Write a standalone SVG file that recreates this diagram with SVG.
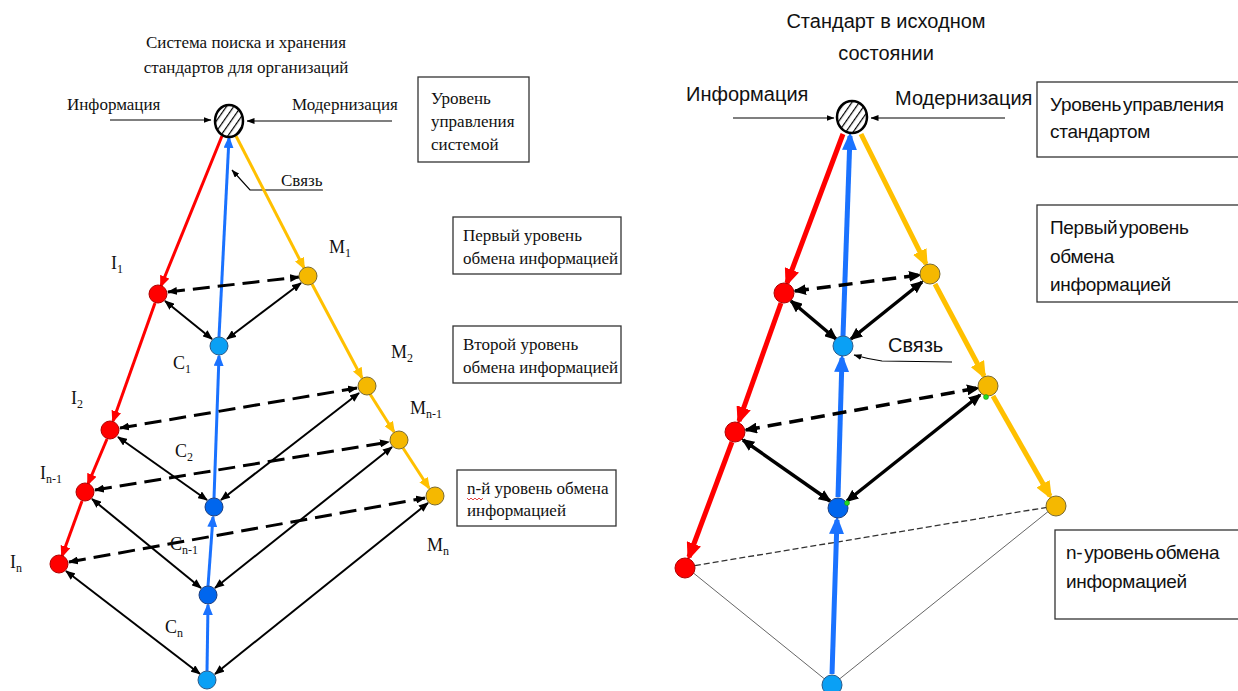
<svg xmlns="http://www.w3.org/2000/svg" width="1238" height="691" viewBox="0 0 1238 691">
<style>
.ser{font-family:"Liberation Serif","Times New Roman",serif;font-size:17px;fill:#111}
.lab{font-family:"Liberation Serif","Times New Roman",serif;font-size:18px;fill:#111}
.sub{font-size:12px}
.san{font-family:"Liberation Sans",Arial,sans-serif;font-size:20px;fill:#111}
.sbx{font-family:"Liberation Sans",Arial,sans-serif;font-size:19px;letter-spacing:-0.3px;word-spacing:-3px;fill:#111}
.box{fill:#fff;stroke:#333;stroke-width:1.3}
.rL{stroke:#ff0000;stroke-width:3;fill:none;marker-end:url(#mRL)}
.yL{stroke:#ffc000;stroke-width:3;fill:none;marker-end:url(#mYL)}
.bL{stroke:#1a72ff;stroke-width:3;fill:none;marker-end:url(#mBL)}
.kL{stroke:#000;stroke-width:2;fill:none;marker-start:url(#mKL);marker-end:url(#mKL)}
.kLd{stroke:#000;stroke-width:3;fill:none;stroke-dasharray:17 8;marker-start:url(#mKL);marker-end:url(#mKL)}
.rR{stroke:#ff0000;stroke-width:5;fill:none;marker-end:url(#mRR)}
.yR{stroke:#ffc000;stroke-width:5;fill:none;marker-end:url(#mYR)}
.bR{stroke:#1a72ff;stroke-width:5;fill:none;marker-end:url(#mBR)}
.kR{stroke:#000;stroke-width:3.5;fill:none;marker-start:url(#mKR);marker-end:url(#mKR)}
.kRd{stroke:#000;stroke-width:3.5;fill:none;stroke-dasharray:14 8;marker-start:url(#mKR);marker-end:url(#mKR)}
.thin{stroke:#000;stroke-width:1.2;fill:none;marker-end:url(#mKT)}
.nr{fill:#ff0000;stroke:#b00000;stroke-width:1}
.ny{fill:#f5b800;stroke:#7a6a30;stroke-width:1}
.nbl{fill:#0aa0f5;stroke:#2a5a8a;stroke-width:1}
.nbd{fill:#0066ee;stroke:#1d3f80;stroke-width:1}
.top{fill:url(#hatch);stroke:#000;stroke-width:2.5}
</style>
<defs>
<pattern id="hatch" patternUnits="userSpaceOnUse" width="6" height="6" patternTransform="rotate(35)">
<rect width="6" height="6" fill="#fff"/>
<line x1="0" y1="0" x2="0" y2="6" stroke="#000" stroke-width="2.4"/>
</pattern>
<marker id="mRL" viewBox="0 0 12 10" refX="10" refY="5" markerWidth="12" markerHeight="10" markerUnits="userSpaceOnUse" orient="auto"><path d="M0,0 L12,5 L0,10 z" fill="#ff0000"/></marker>
<marker id="mYL" viewBox="0 0 12 10" refX="10" refY="5" markerWidth="12" markerHeight="10" markerUnits="userSpaceOnUse" orient="auto"><path d="M0,0 L12,5 L0,10 z" fill="#ffc000"/></marker>
<marker id="mBL" viewBox="0 0 12 10" refX="10" refY="5" markerWidth="12" markerHeight="10" markerUnits="userSpaceOnUse" orient="auto"><path d="M0,0 L12,5 L0,10 z" fill="#1a72ff"/></marker>
<marker id="mKL" viewBox="0 0 10 8" refX="9" refY="4" markerWidth="10" markerHeight="8" markerUnits="userSpaceOnUse" orient="auto-start-reverse"><path d="M0,0 L10,4 L0,8 z" fill="#000"/></marker>
<marker id="mRR" viewBox="0 0 18 15" refX="14" refY="7.5" markerWidth="18" markerHeight="15" markerUnits="userSpaceOnUse" orient="auto"><path d="M0,0 L18,7.5 L0,15 z" fill="#ff0000"/></marker>
<marker id="mYR" viewBox="0 0 18 15" refX="14" refY="7.5" markerWidth="18" markerHeight="15" markerUnits="userSpaceOnUse" orient="auto"><path d="M0,0 L18,7.5 L0,15 z" fill="#ffc000"/></marker>
<marker id="mBR" viewBox="0 0 18 15" refX="14" refY="7.5" markerWidth="18" markerHeight="15" markerUnits="userSpaceOnUse" orient="auto"><path d="M0,0 L18,7.5 L0,15 z" fill="#1a72ff"/></marker>
<marker id="mKR" viewBox="0 0 13 11" refX="11" refY="5.5" markerWidth="13" markerHeight="11" markerUnits="userSpaceOnUse" orient="auto-start-reverse"><path d="M0,0 L13,5.5 L0,11 z" fill="#000"/></marker>
<marker id="mKT" viewBox="0 0 8 6" refX="7.5" refY="3" markerWidth="8" markerHeight="6" markerUnits="userSpaceOnUse" orient="auto"><path d="M0,0 L8,3 L0,6 z" fill="#000"/></marker>
</defs>
<rect width="1238" height="691" fill="#fff"/>

<!-- ===== LEFT ===== -->
<g id="L-title">
<text class="ser" x="246" y="48" text-anchor="middle">Система поиска и хранения</text>
<text class="ser" x="246" y="73" text-anchor="middle">стандартов для организаций</text>
</g>
<g id="L-labels-in">
<text class="ser" x="67" y="110">Информация</text>
<text class="ser" x="292" y="110">Модернизация</text>
<text class="ser" x="281" y="186">Связь</text>
</g>
<g id="L-box-top">
<rect class="box" x="418" y="77" width="111" height="85"/>
<text class="ser" x="431" y="104">Уровень</text>
<text class="ser" x="431" y="127">управления</text>
<text class="ser" x="431" y="150">системой</text>
</g>
<g id="L-box-1">
<rect class="box" x="453" y="217" width="168" height="57"/>
<text class="ser" x="463" y="241">Первый уровень</text>
<text class="ser" x="463" y="264">обмена информацией</text>
</g>
<g id="L-box-2">
<rect class="box" x="453" y="326" width="168" height="57"/>
<text class="ser" x="463" y="350">Второй уровень</text>
<text class="ser" x="463" y="373">обмена информацией</text>
</g>
<g id="L-box-n">
<rect class="box" x="457" y="470" width="159" height="56"/>
<text class="ser" x="467" y="494">n-й уровень обмена</text>
<text class="ser" x="467" y="516">информацией</text>
<path d="M467,498 l2,2 l2,-2 l2,2 l2,-2 l2,2 l2,-2 l2,2 l2,-2" stroke="#e03030" stroke-width="0.9" fill="none"/>
</g>

<g id="connectors">
<!-- left inputs -->
<line class="thin" x1="110" y1="120" x2="211" y2="120"/>
<line class="thin" x1="392" y1="121" x2="247" y2="121"/>
<polyline class="thin" points="323,190 250,190 232,170"/>
<!-- left red -->
<line class="rL" x1="222" y1="136" x2="161" y2="286"/>
<line class="rL" x1="155" y1="303" x2="113" y2="421"/>
<line class="rL" x1="107" y1="439" x2="88" y2="484"/>
<line class="rL" x1="82" y1="501" x2="62" y2="556"/>
<!-- left yellow -->
<line class="yL" x1="236" y1="136" x2="304" y2="268"/>
<line class="yL" x1="312" y1="284" x2="362" y2="378"/>
<line class="yL" x1="370" y1="394" x2="394" y2="432"/>
<line class="yL" x1="403" y1="448" x2="429" y2="488"/>
<!-- left blue -->
<line class="bL" x1="219" y1="337" x2="229" y2="138"/>
<line class="bL" x1="214" y1="498" x2="219" y2="356"/>
<line class="bL" x1="208" y1="586" x2="213" y2="517"/>
<line class="bL" x1="207" y1="671" x2="208" y2="605"/>
<!-- left black -->
<line class="kLd" x1="168" y1="292" x2="299" y2="277"/>
<line class="kL" x1="165" y1="301" x2="212" y2="339"/>
<line class="kL" x1="301" y1="283" x2="227" y2="339"/>
<line class="kLd" x1="120" y1="428" x2="357" y2="388"/>
<line class="kL" x1="118" y1="437" x2="207" y2="500"/>
<line class="kL" x1="359" y1="393" x2="221" y2="500"/>
<line class="kLd" x1="95" y1="490" x2="389" y2="442"/>
<line class="kL" x1="92" y1="499" x2="201" y2="588"/>
<line class="kL" x1="392" y1="447" x2="215" y2="588"/>
<line class="kLd" x1="69" y1="562" x2="425" y2="498"/>
<line class="kL" x1="66" y1="571" x2="200" y2="674"/>
<line class="kL" x1="428" y1="503" x2="215" y2="674"/>

<!-- right inputs -->
<line class="thin" x1="733" y1="118" x2="834" y2="118"/>
<line class="thin" x1="1005" y1="118" x2="871" y2="118"/>
<path d="M952,362 L882,361 Q868,359 854,355" fill="none" stroke="#000" stroke-width="1.2" marker-end="url(#mKT)"/>
<!-- right thin triangle -->
<line x1="686" y1="567" x2="1055" y2="506" stroke="#333" stroke-width="1.3" stroke-dasharray="6 3"/>
<line x1="686" y1="567" x2="832" y2="685" stroke="#666" stroke-width="1"/>
<line x1="832" y1="685" x2="1055" y2="506" stroke="#666" stroke-width="1"/>
<!-- right red -->
<line class="rR" x1="843" y1="134" x2="787" y2="283"/>
<line class="rR" x1="781" y1="303" x2="739" y2="421"/>
<line class="rR" x1="732" y1="442" x2="689" y2="557"/>
<!-- right yellow -->
<line class="yR" x1="861" y1="134" x2="926" y2="264"/>
<line class="yR" x1="935" y1="284" x2="984" y2="376"/>
<line class="yR" x1="993" y1="396" x2="1050" y2="496"/>
<!-- right blue -->
<line class="bR" x1="843" y1="336" x2="850" y2="136"/>
<line class="bR" x1="838" y1="497" x2="842" y2="358"/>
<line class="bR" x1="832" y1="674" x2="837" y2="520"/>
<!-- right black -->
<line class="kRd" x1="795" y1="291" x2="920" y2="275"/>
<line class="kR" x1="791" y1="301" x2="836" y2="339"/>
<line class="kR" x1="922" y1="282" x2="851" y2="339"/>
<line class="kRd" x1="746" y1="430" x2="978" y2="388"/>
<line class="kR" x1="743" y1="440" x2="830" y2="501"/>
<line class="kR" x1="980" y1="395" x2="847" y2="501"/>
</g>

<g id="L-top"><ellipse class="top" cx="229" cy="121" rx="14" ry="16"/></g>
<g id="L-I1"><circle class="nr" cx="158" cy="294" r="9"/><text class="lab" x="111" y="269">I<tspan class="sub" dy="4">1</tspan></text></g>
<g id="L-M1"><circle class="ny" cx="308" cy="276" r="9"/><text class="lab" x="329" y="253">M<tspan class="sub" dy="4">1</tspan></text></g>
<g id="L-C1"><circle class="nbl" cx="219" cy="346" r="9"/><text class="lab" x="173" y="369">C<tspan class="sub" dy="4">1</tspan></text></g>
<g id="L-I2"><circle class="nr" cx="110" cy="430" r="9"/><text class="lab" x="71" y="404">I<tspan class="sub" dy="4">2</tspan></text></g>
<g id="L-M2"><circle class="ny" cx="367" cy="386" r="9"/><text class="lab" x="391" y="358">M<tspan class="sub" dy="4">2</tspan></text></g>
<g id="L-Mn1"><circle class="ny" cx="399" cy="440" r="9"/><text class="lab" x="410" y="414">M<tspan class="sub" dy="4">n-1</tspan></text></g>
<g id="L-C2"><circle class="nbd" cx="214" cy="507" r="9"/><text class="lab" x="175" y="457">C<tspan class="sub" dy="4">2</tspan></text></g>
<g id="L-In1"><circle class="nr" cx="85" cy="492" r="9"/><text class="lab" x="40" y="479">I<tspan class="sub" dy="4">n-1</tspan></text></g>
<g id="L-In"><circle class="nr" cx="59" cy="564" r="9"/><text class="lab" x="10" y="568">I<tspan class="sub" dy="4">n</tspan></text></g>
<g id="L-Cn1"><circle class="nbd" cx="208" cy="595" r="9"/><text class="lab" x="170" y="550">C<tspan class="sub" dy="4">n-1</tspan></text></g>
<g id="L-Mn"><circle class="ny" cx="435" cy="496" r="9"/><text class="lab" x="427" y="551">M<tspan class="sub" dy="4">n</tspan></text></g>
<g id="L-Cn"><circle class="nbl" cx="207" cy="680" r="9"/><text class="lab" x="165" y="633">C<tspan class="sub" dy="4">n</tspan></text></g>

<!-- ===== RIGHT ===== -->
<g id="R-title">
<text class="san" x="886" y="28" text-anchor="middle">Стандарт в исходном</text>
<text class="san" x="886" y="60" text-anchor="middle">состоянии</text>
</g>
<g id="R-labels-in">
<text class="san" x="686" y="101">Информация</text>
<text class="san" x="895" y="105">Модернизация</text>
<text class="san" x="888" y="352">Связь</text>
</g>
<g id="R-box-top">
<rect class="box" x="1037" y="82" width="210" height="75"/>
<text class="sbx" x="1050" y="111">Уровень управления</text>
<text class="sbx" x="1050" y="138">стандартом</text>
</g>
<g id="R-box-1">
<rect class="box" x="1037" y="205" width="210" height="97"/>
<text class="sbx" x="1050" y="234">Первый уровень</text>
<text class="sbx" x="1050" y="263">обмена</text>
<text class="sbx" x="1050" y="291">информацией</text>
</g>
<g id="R-box-n">
<rect class="box" x="1055" y="530" width="192" height="89"/>
<text class="sbx" x="1066" y="559">n- уровень обмена</text>
<text class="sbx" x="1066" y="588">информацией</text>
</g>

<g id="R-top"><ellipse class="top" cx="852" cy="117" rx="15" ry="16"/></g>
<g id="R-I1"><circle class="nr" cx="784" cy="293" r="10"/></g>
<g id="R-M1"><circle class="ny" cx="930" cy="274" r="10"/></g>
<g id="R-C1"><circle class="nbl" cx="843" cy="346" r="10"/></g>
<g id="R-I2"><circle class="nr" cx="735" cy="432" r="10"/></g>
<g id="R-M2"><circle class="ny" cx="988" cy="386" r="10"/><circle cx="986" cy="397" r="2.5" fill="#22dd22" stroke="#118811" stroke-width="0.5"/></g>
<g id="R-C2"><circle class="nbd" cx="838" cy="508" r="10"/><circle cx="847" cy="503" r="2.5" fill="#22dd22" stroke="#118811" stroke-width="0.5"/></g>
<g id="R-In"><circle class="nr" cx="685" cy="568" r="10"/></g>
<g id="R-Mn"><circle class="ny" cx="1056" cy="506" r="10"/></g>
<g id="R-Cn"><circle class="nbl" cx="832" cy="685" r="10"/></g>
</svg>
